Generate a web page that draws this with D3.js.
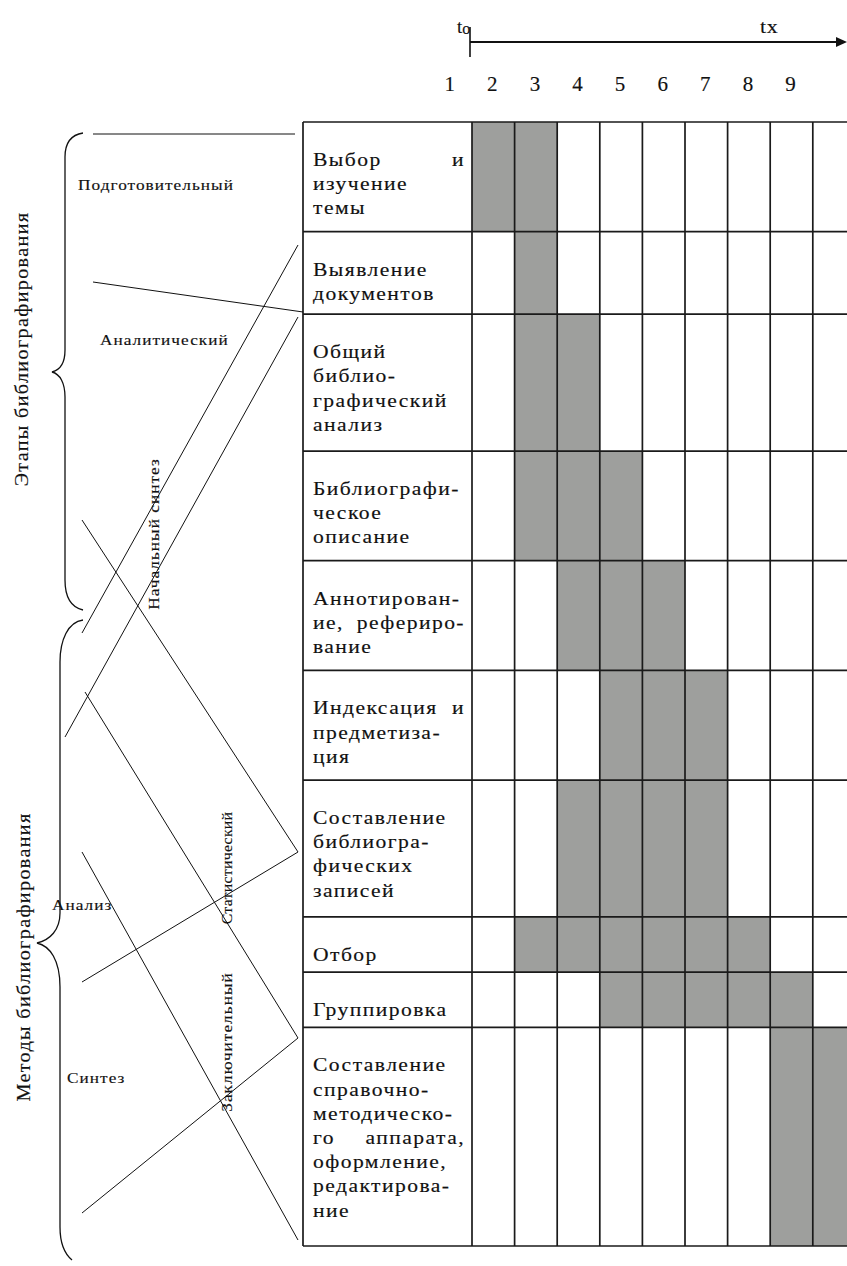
<!DOCTYPE html>
<html>
<head>
<meta charset="utf-8">
<script src="https://cdn.jsdelivr.net/npm/d3@7"></script>
<style>
  html, body { margin: 0; padding: 0; background: #fff; }
  svg { display: block; }
  text { font-family: "Liberation Serif", "Times New Roman", serif; fill: #111; stroke: #111; stroke-width: 0.15px; }
</style>
</head>
<body>
<svg id="chart" width="847" height="1266"></svg>
<script>
// ---------------- data ----------------
const periodLabels = ["1", "2", "3", "4", "5", "6", "7", "8", "9"];
const periods = [1, 2, 3, 4, 5, 6, 7, 8, 9, 10];
const axisStartLabel = "t";
const axisStartSub = "o";
const axisEndLabel = "tx";

const taskLines = [
  ["Выбор и", "изучение", "темы"],
  ["Выявление", "документов"],
  ["Общий", "библио-", "графический", "анализ"],
  ["Библиографи-", "ческое", "описание"],
  ["Аннотирован-", "ие, рефериро-", "вание"],
  ["Индексация и", "предметиза-", "ция"],
  ["Составление", "библиогра-", "фических", "записей"],
  ["Отбор"],
  ["Группировка"],
  ["Составление", "справочно-", "методическо-", "го аппарата,", "оформление,", "редактирова-", "ние"]
];
const taskStart = [2, 3, 3, 3, 4, 5, 4, 3, 5, 9];
const taskEnd   = [3, 3, 4, 5, 6, 7, 7, 8, 9, 10];

const groupLabels = ["Этапы библиографирования", "Методы библиографирования"];
const stageLabels = ["Подготовительный", "Аналитический", "Начальный синтез", "Статистический", "Заключительный"];
const methodLabels = ["Анализ", "Синтез"];

// ---------------- layout ----------------
const svg = d3.select("#chart");
svg.append("rect").attr("width", 847).attr("height", 1266).attr("fill", "#fff");

const tableLeft = 303, tableTop = 122;
const x = d3.scaleBand().domain(periods).range([429.4, 855.4]).paddingInner(0).paddingOuter(0);

const rowUnits = taskLines.map(l => 28 + 27.2 * l.length);
const cum = [0]; rowUnits.forEach((u, i) => cum.push(cum[i] + u));
const y = d3.scaleLinear().domain([0, cum[cum.length - 1]]).range([tableTop, 1246]);
const rowTop = i => y(cum[i]);
const rowBot = i => y(cum[i + 1]);

const gridColor = "#1a1a1a";
const fillGray = "#9e9f9d";

// stretched text helper
function stext(parent, px, py, str, o) {
  const sx = o.sx || 1, rot = o.rot || 0;
  return parent.append("text")
    .attr("transform", `translate(${px},${py})` + (rot ? ` rotate(${rot})` : "") + ` scale(${sx},1)`)
    .style("font-size", o.fs + "px")
    .style("letter-spacing", (o.ls || 0) + "px")
    .attr("text-anchor", o.anchor || "start")
    .text(str);
}

// gray bars
const g = svg.append("g");
taskLines.forEach((lines, i) => {
  g.append("rect")
    .attr("x", x(taskStart[i]))
    .attr("y", rowTop(i))
    .attr("width", x(taskEnd[i]) + x.bandwidth() - x(taskStart[i]))
    .attr("height", rowBot(i) - rowTop(i))
    .attr("fill", fillGray);
});

// grid lines
const grid = svg.append("g").attr("stroke", gridColor).attr("stroke-width", 1.7);
for (let i = 0; i <= taskLines.length; i++) {
  grid.append("line").attr("x1", tableLeft).attr("x2", 860)
    .attr("y1", y(cum[i])).attr("y2", y(cum[i]));
}
grid.append("line").attr("x1", tableLeft).attr("x2", tableLeft).attr("y1", tableTop).attr("y2", 1246);
periods.filter(p => p >= 2).forEach(p => {
  grid.append("line").attr("x1", x(p)).attr("x2", x(p)).attr("y1", tableTop).attr("y2", 1246);
});

// task labels
const TS = { fs: 18, sx: 1.2, ls: 1.2 };
const lh = 24.2, textLeft = 313, textRight = 465;
const lab = svg.append("g");
taskLines.forEach((lines, i) => {
  lines.forEach((line, j) => {
    const yy = rowTop(i) + 44 + j * lh;
    const words = line.split(" ");
    const justify = j < lines.length - 1 && words.length > 1;
    if (!justify) {
      stext(lab, textLeft, yy, line, TS);
    } else {
      const els = words.map(w => stext(lab, 0, yy, w, TS));
      const widths = els.map(e => e.node().getComputedTextLength() * TS.sx);
      const total = d3.sum(widths);
      const gap = Math.max(6, (textRight - textLeft - total) / (words.length - 1));
      let cx = textLeft;
      els.forEach((e, k) => {
        e.attr("transform", `translate(${cx},${yy}) scale(${TS.sx},1)`);
        cx += widths[k] + gap;
      });
    }
  });
});

// time axis
const ax = svg.append("g");
ax.append("line").attr("x1", x(2) - 2).attr("x2", 838).attr("y1", 42).attr("y2", 42)
  .attr("stroke", "#111").attr("stroke-width", 1.8);
ax.append("path").attr("d", "M836,37 L847,42 L836,47 Z").attr("fill", "#111");
ax.append("line").attr("x1", x(2) - 2).attr("x2", x(2) - 2).attr("y1", 27).attr("y2", 57)
  .attr("stroke", "#111").attr("stroke-width", 1.6);
const t0 = ax.append("text").attr("x", 457).attr("y", 33).style("font-size", "19px");
t0.append("tspan").text(axisStartLabel);
t0.append("tspan").attr("dy", 1).style("font-size", "16px").text(axisStartSub);
stext(ax, 760, 33, axisEndLabel, { fs: 19, sx: 1.15, ls: 0.5 });
ax.selectAll("text.tick").data(periodLabels).join("text").attr("class", "tick")
  .attr("x", d => x(+d) + x.bandwidth() / 2 - 1)
  .attr("y", 91)
  .attr("text-anchor", "middle")
  .style("font-size", "21px")
  .text(d => d);

// ---------------- left annotation ----------------
const ann = svg.append("g").attr("fill", "none").attr("stroke", "#111").attr("stroke-width", 1.3);
ann.append("path").attr("d",
  "M83,133 C70,135 65,145 65,157 L65,350 C65,363 60,370 52,372 C60,374 65,383 65,397 L65,580 C65,596 70,607 83,610");
ann.append("path").attr("d",
  "M83,620 C68,622 60,640 60,662 L60,913 C60,930 50,940 37,943 C50,946 60,960 60,987 L60,1227 C60,1245 66,1255 72,1260");

const segs = [
  [93, 134, 295, 134],
  [93, 282, 303, 312],
  [298, 245, 82, 633],
  [298, 317, 65, 737],
  [82, 520, 298, 852],
  [298, 852, 82, 982],
  [85, 692, 298, 1038],
  [298, 1038, 82, 1213],
  [82, 852, 298, 1240]
];
ann.selectAll("line").data(segs).join("line")
  .attr("x1", d => d[0]).attr("y1", d => d[1]).attr("x2", d => d[2]).attr("y2", d => d[3])
  .attr("stroke-width", 1);

// group labels (rotated)
const GS = { fs: 18, sx: 1.12, ls: 1.2, rot: -90, anchor: "middle" };
const gl = svg.append("g");
stext(gl, 28, 349, groupLabels[0], GS);
stext(gl, 30, 957, groupLabels[1], GS);

// stage labels
const SS = { fs: 15, sx: 1.15, ls: 0.9 };
const SR = { fs: 15, sx: 1.15, ls: 0.9, rot: -90, anchor: "middle" };
const sl = svg.append("g");
stext(sl, 78, 190, stageLabels[0], SS);
stext(sl, 100, 345, stageLabels[1], SS);
stext(sl, 159, 534, stageLabels[2], SR);
stext(sl, 232, 868, stageLabels[3], { fs: 15, sx: 1.05, ls: 0.3, rot: -90, anchor: "middle" });
stext(sl, 232, 1042, stageLabels[4], SR);
stext(sl, 52, 910, methodLabels[0], SS);
stext(sl, 67, 1083, methodLabels[1], SS);
</script>
</body>
</html>
